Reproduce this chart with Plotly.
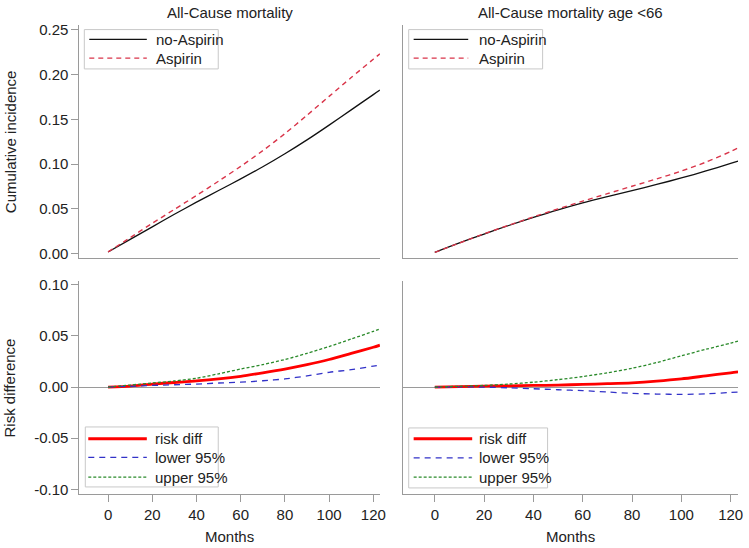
import plotly.graph_objects as go

# DATA
months = [0, 10, 20, 30, 40, 50, 60, 70, 80, 90, 100, 110, 120, 123]

# cumulative incidence, all ages
ci_noasp = [0.002, 0.016, 0.030, 0.044, 0.0575, 0.0705, 0.0835, 0.097, 0.1115, 0.127, 0.1435, 0.1605, 0.1775, 0.1825]
ci_asp = [0.002, 0.018, 0.034, 0.0495, 0.065, 0.081, 0.0975, 0.115, 0.134, 0.1545, 0.1755, 0.1965, 0.217, 0.223]

# cumulative incidence, age <66
ci66_noasp = [0.0015, 0.012, 0.022, 0.0315, 0.0405, 0.049, 0.0568, 0.0638, 0.0705, 0.0773, 0.0845, 0.0923, 0.1007, 0.1033]
ci66_asp = [0.0015, 0.012, 0.0222, 0.0318, 0.0411, 0.0501, 0.0587, 0.067, 0.0753, 0.0835, 0.0922, 0.1022, 0.114, 0.118]

# risk difference, all ages
rd = [0, 0.001, 0.003, 0.0045, 0.006, 0.008, 0.0106, 0.014, 0.0177, 0.022, 0.027, 0.033, 0.039, 0.041]
rd_low = [0, 0.0008, 0.0016, 0.0023, 0.003, 0.004, 0.0048, 0.0062, 0.008, 0.011, 0.0145, 0.017, 0.0205, 0.0215]
rd_up = [0, 0.002, 0.004, 0.006, 0.0087, 0.013, 0.0177, 0.022, 0.027, 0.033, 0.0397, 0.047, 0.0545, 0.057]

# risk difference, age <66
rd66 = [0, 0.0005, 0.001, 0.0013, 0.0016, 0.002, 0.0026, 0.0033, 0.0042, 0.0058, 0.008, 0.011, 0.014, 0.015]
rd66_low = [0, 0.0002, 0, -0.0007, -0.0016, -0.0026, -0.0035, -0.0048, -0.0061, -0.0068, -0.0071, -0.0066, -0.0052, -0.0048]
rd66_up = [0, 0.0008, 0.0016, 0.003, 0.0048, 0.0073, 0.0103, 0.014, 0.0184, 0.024, 0.0306, 0.037, 0.043, 0.045]

# ticks
x_ticks = [0, 20, 40, 60, 80, 100, 120]
ci_ticks = [0, 0.05, 0.10, 0.15, 0.20, 0.25]
ci_labels = ["0.00", "0.05", "0.10", "0.15", "0.20", "0.25"]
rd_ticks = [-0.10, -0.05, 0, 0.05, 0.10]
rd_labels = ["-0.10", "-0.05", "0.00", "0.05", "0.10"]

titles = ["All-Cause mortality", "All-Cause mortality age <66"]

# STYLE
W, H = 749, 548
FONT = "Liberation Sans, Arial, sans-serif"
TXT = "#222222"
AX = "#9a9a9a"
styles = {
    "no-Aspirin": dict(color="#111111", width=1.3),
    "Aspirin": dict(color="#d9354a", width=1.4, dash="5px,4px"),
    "risk diff": dict(color="#ff0000", width=2.8),
    "lower 95%": dict(color="#3232c8", width=1.3, dash="6px,5px"),
    "upper 95%": dict(color="#2a8a2a", width=1.3, dash="3px,2px"),
}

def px(v):
    return v / W

def py(v):
    return 1 - v / H

fig = go.Figure()

panels = [
    ("x", "y", [("no-Aspirin", ci_noasp), ("Aspirin", ci_asp)]),
    ("x2", "y2", [("no-Aspirin", ci66_noasp), ("Aspirin", ci66_asp)]),
    ("x3", "y3", [("risk diff", rd), ("lower 95%", rd_low), ("upper 95%", rd_up)]),
    ("x4", "y4", [("risk diff", rd66), ("lower 95%", rd66_low), ("upper 95%", rd66_up)]),
]
for xa, ya, series in panels:
    for name, vals in series:
        fig.add_trace(go.Scatter(x=months, y=vals, mode="lines", name=name, showlegend=False,
                                 line=dict(shape="spline", smoothing=0.8, **styles[name]),
                                 xaxis=xa, yaxis=ya))

# panel positions (pixels)
xl = [px(80), px(383)]
xr = [px(406), px(744)]
yt = [py(257), py(20)]
yb = [py(497), py(281)]

def xax(dom, anchor, ticks):
    d = dict(domain=dom, anchor=anchor, range=[-13, 123], showline=True, linecolor=AX, linewidth=1,
             showgrid=False, zeroline=False, tickfont=dict(size=15, color=TXT))
    if ticks:
        d.update(tickvals=x_ticks, ticks="outside", ticklen=7, tickcolor=AX)
    else:
        d.update(showticklabels=False, ticks="")
    return d

def yax(dom, anchor, rng, vals, labels, zero):
    d = dict(domain=dom, anchor=anchor, range=rng, showline=True, linecolor=AX, linewidth=1,
             showgrid=False, zeroline=zero, zerolinecolor=AX, zerolinewidth=1,
             tickfont=dict(size=15, color=TXT))
    if labels:
        d.update(tickvals=vals, ticktext=labels, ticks="outside", ticklen=7, tickcolor=AX)
    else:
        d.update(showticklabels=False, ticks="")
    return d

fig.update_layout(
    width=W, height=H,
    margin=dict(l=0, r=0, t=0, b=0),
    paper_bgcolor="white", plot_bgcolor="white",
    font=dict(family=FONT, size=15, color=TXT),
    showlegend=False,
    xaxis=xax(xl, "y", False), yaxis=yax(yt, "x", [-0.0045, 0.2555], ci_ticks, ci_labels, False),
    xaxis2=xax(xr, "y2", False), yaxis2=yax(yt, "x2", [-0.0045, 0.2555], ci_ticks, None, False),
    xaxis3=xax(xl, "y3", True), yaxis3=yax(yb, "x3", [-0.1044, 0.1034], rd_ticks, rd_labels, True),
    xaxis4=xax(xr, "y4", True), yaxis4=yax(yb, "x4", [-0.1044, 0.1034], rd_ticks, None, True),
)

# legends drawn by hand: box, sample lines and labels
def legend_box(x0, y0, x1, y1, lx0, lx1, tx, rows, names):
    fig.add_shape(type="rect", xref="paper", yref="paper", x0=px(x0), x1=px(x1), y0=py(y1), y1=py(y0),
                  line=dict(color="#c8c8c8", width=1), fillcolor="white", layer="above")
    for r, n in zip(rows, names):
        fig.add_shape(type="line", xref="paper", yref="paper", x0=px(lx0), x1=px(lx1), y0=py(r), y1=py(r),
                      line=styles[n], layer="above")
        fig.add_annotation(text=n, x=px(tx), y=py(r), xref="paper", yref="paper", xanchor="left",
                           yanchor="middle", showarrow=False, font=dict(size=15, color=TXT))

legend_box(85, 25, 220, 65, 90, 148, 155, [35, 54], ["no-Aspirin", "Aspirin"])
legend_box(412, 25, 547, 65, 417, 472, 481, [35, 54], ["no-Aspirin", "Aspirin"])
legend_box(86, 429, 220, 490, 89, 148, 154, [441, 460, 480], ["risk diff", "lower 95%", "upper 95%"])
legend_box(412, 430, 552, 491, 417, 476, 481, [441, 460.5, 480], ["risk diff", "lower 95%", "upper 95%"])

# panel titles
for t, dom in zip(titles, [xl, xr]):
    fig.add_annotation(text=t, x=sum(dom) / 2, y=py(8), xref="paper", yref="paper",
                       xanchor="center", yanchor="middle", showarrow=False, font=dict(size=15, color=TXT))

# axis titles
fig.add_annotation(text="Cumulative incidence", x=px(10), y=sum(yt) / 2, xref="paper", yref="paper",
                   textangle=-90, xanchor="center", yanchor="middle", showarrow=False, font=dict(size=15, color=TXT))
fig.add_annotation(text="Risk difference", x=px(10), y=sum(yb) / 2, xref="paper", yref="paper",
                   textangle=-90, xanchor="center", yanchor="middle", showarrow=False, font=dict(size=15, color=TXT))
for dom in [xl, xr]:
    fig.add_annotation(text="Months", x=sum(dom) / 2, y=py(540), xref="paper", yref="paper",
                       xanchor="center", yanchor="middle", showarrow=False, font=dict(size=15, color=TXT))

# page has a default body margin, drop it so the figure sits at the corner
fig.write_html("out.html", config={"displayModeBar": False},
               post_script="document.body.style.margin='0';")
